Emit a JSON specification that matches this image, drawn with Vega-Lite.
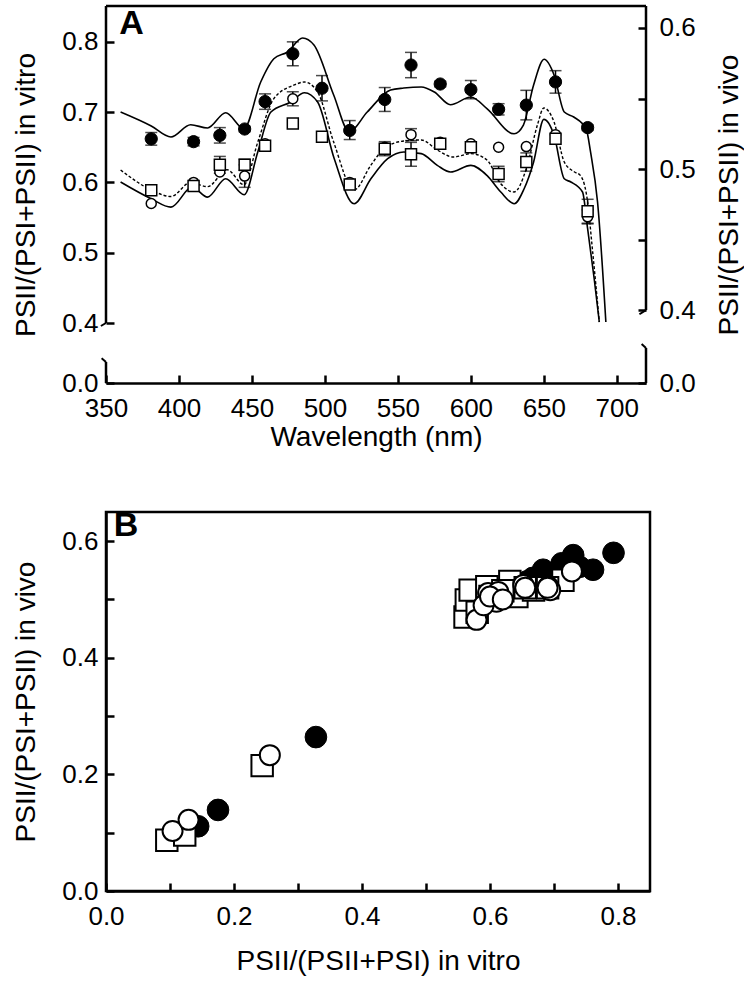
{
 "$schema": "https://vega.github.io/schema/vega-lite/v6.json",
 "padding": {"left": 11, "top": 4, "right": 0, "bottom": 0},
 "spacing": 56,
 "config": {
  "font": "Liberation Sans",
  "view": {"stroke": null},
  "axis": {"grid": false, "labelFlush": false, "domainColor": "black", "domainWidth": 2.5, "tickColor": "black", "tickWidth": 2.5, "tickSize": -8, "labelFontSize": 26, "labelColor": "black", "labelPadding": 16, "titleFontSize": 28, "titleColor": "black", "titleFontWeight": "normal", "labelFont": "Liberation Sans", "titleFont": "Liberation Sans"},
  "axisX": {"labelPadding": 20, "titlePadding": 2},
  "axisY": {"titlePadding": 21}
 },
 "datasets": {
  "one": [{"k": 1}],
  "lines": [
   {"s":"top","wl":360,"r":0.5404},{"s":"top","wl":381,"r":0.5305},{"s":"top","wl":394.5,"r":0.5227},{"s":"top","wl":408,"r":0.5314},{"s":"top","wl":419.6,"r":0.5291},{"s":"top","wl":432,"r":0.5399},{"s":"top","wl":444.5,"r":0.5286},{"s":"top","wl":456,"r":0.5617},{"s":"top","wl":465,"r":0.5782},{"s":"top","wl":474.4,"r":0.583},{"s":"top","wl":484.7,"r":0.5929},{"s":"top","wl":492.5,"r":0.5879},{"s":"top","wl":506,"r":0.5525},{"s":"top","wl":516.6,"r":0.5265},{"s":"top","wl":529,"r":0.5404},{"s":"top","wl":545,"r":0.556},{"s":"top","wl":554,"r":0.5574},{"s":"top","wl":566,"r":0.5582},{"s":"top","wl":575,"r":0.5546},{"s":"top","wl":586,"r":0.5456},{"s":"top","wl":600,"r":0.5511},{"s":"top","wl":611,"r":0.5428},{"s":"top","wl":629.6,"r":0.525},{"s":"top","wl":636,"r":0.5312},{"s":"top","wl":643,"r":0.5596},{"s":"top","wl":650.2,"r":0.5778},{"s":"top","wl":657,"r":0.5667},{"s":"top","wl":664,"r":0.5404},{"s":"top","wl":670.5,"r":0.5369},{"s":"top","wl":679,"r":0.5284},{"s":"top","wl":682,"r":0.5121},{"s":"top","wl":686.8,"r":0.4766},{"s":"top","wl":692.5,"r":0.3915},
   {"s":"dash","wl":360,"r":0.4993},{"s":"dash","wl":381,"r":0.4851},{"s":"dash","wl":394.5,"r":0.4805},{"s":"dash","wl":408,"r":0.4905},{"s":"dash","wl":419.6,"r":0.4875},{"s":"dash","wl":433,"r":0.4995},{"s":"dash","wl":444.5,"r":0.4889},{"s":"dash","wl":454,"r":0.5191},{"s":"dash","wl":465,"r":0.5499},{"s":"dash","wl":479,"r":0.5596},{"s":"dash","wl":486,"r":0.5617},{"s":"dash","wl":495,"r":0.5546},{"s":"dash","wl":506,"r":0.5191},{"s":"dash","wl":520,"r":0.4851},{"s":"dash","wl":531.5,"r":0.5028},{"s":"dash","wl":540.5,"r":0.5144},{"s":"dash","wl":554,"r":0.5199},{"s":"dash","wl":566,"r":0.5206},{"s":"dash","wl":577,"r":0.5135},{"s":"dash","wl":588,"r":0.5085},{"s":"dash","wl":600,"r":0.5109},{"s":"dash","wl":611,"r":0.5064},{"s":"dash","wl":620.5,"r":0.4896},{"s":"dash","wl":629.6,"r":0.4837},{"s":"dash","wl":638,"r":0.5002},{"s":"dash","wl":645.6,"r":0.5312},{"s":"dash","wl":650,"r":0.5433},{"s":"dash","wl":657,"r":0.5333},{"s":"dash","wl":664,"r":0.505},{"s":"dash","wl":671,"r":0.4979},{"s":"dash","wl":675,"r":0.4955},{"s":"dash","wl":680,"r":0.4766},{"s":"dash","wl":683,"r":0.4461},{"s":"dash","wl":688,"r":0.3915},
   {"s":"low","wl":360,"r":0.4908},{"s":"low","wl":381,"r":0.4789},{"s":"low","wl":394.5,"r":0.473},{"s":"low","wl":409,"r":0.4872},{"s":"low","wl":419.6,"r":0.4801},{"s":"low","wl":432,"r":0.4931},{"s":"low","wl":444.7,"r":0.4818},{"s":"low","wl":454,"r":0.5121},{"s":"low","wl":463,"r":0.5404},{"s":"low","wl":476.7,"r":0.5475},{"s":"low","wl":486,"r":0.5541},{"s":"low","wl":495,"r":0.5475},{"s":"low","wl":506.4,"r":0.5073},{"s":"low","wl":520,"r":0.4754},{"s":"low","wl":531.5,"r":0.4931},{"s":"low","wl":543,"r":0.5073},{"s":"low","wl":554,"r":0.5121},{"s":"low","wl":566,"r":0.5109},{"s":"low","wl":577,"r":0.5026},{"s":"low","wl":586,"r":0.4979},{"s":"low","wl":600,"r":0.5026},{"s":"low","wl":611,"r":0.4955},{"s":"low","wl":620.5,"r":0.4837},{"s":"low","wl":629.7,"r":0.4754},{"s":"low","wl":636.5,"r":0.486},{"s":"low","wl":643,"r":0.505},{"s":"low","wl":650,"r":0.5352},{"s":"low","wl":657,"r":0.5239},{"s":"low","wl":664,"r":0.4931},{"s":"low","wl":668.5,"r":0.4908},{"s":"low","wl":676.5,"r":0.4837},{"s":"low","wl":680,"r":0.4577},{"s":"low","wl":684.5,"r":0.4222},{"s":"low","wl":688,"r":0.3915}
  ],
  "pts": [
   {"s":"filled","wl":381,"v":0.662},{"s":"filled","wl":410,"v":0.658},{"s":"filled","wl":428,"v":0.667},{"s":"filled","wl":445,"v":0.676},{"s":"filled","wl":459,"v":0.715},{"s":"filled","wl":478,"v":0.783},{"s":"filled","wl":498,"v":0.734},{"s":"filled","wl":517,"v":0.674},{"s":"filled","wl":541,"v":0.718},{"s":"filled","wl":559,"v":0.767},{"s":"filled","wl":579,"v":0.74},{"s":"filled","wl":600,"v":0.732},{"s":"filled","wl":619,"v":0.704},{"s":"filled","wl":638,"v":0.71},{"s":"filled","wl":658,"v":0.743},{"s":"filled","wl":680,"v":0.678},
   {"s":"open","wl":381,"v":0.57},{"s":"open","wl":410,"v":0.6},{"s":"open","wl":428,"v":0.615},{"s":"open","wl":445,"v":0.609},{"s":"open","wl":459,"v":0.655},{"s":"open","wl":478,"v":0.719},{"s":"open","wl":498,"v":0.665},{"s":"open","wl":517,"v":0.6},{"s":"open","wl":541,"v":0.65},{"s":"open","wl":559,"v":0.668},{"s":"open","wl":579,"v":0.657},{"s":"open","wl":600,"v":0.655},{"s":"open","wl":619,"v":0.65},{"s":"open","wl":638,"v":0.651},{"s":"open","wl":658,"v":0.668},{"s":"open","wl":680,"v":0.551},
   {"s":"square","wl":381,"v":0.589},{"s":"square","wl":410,"v":0.595},{"s":"square","wl":428,"v":0.625},{"s":"square","wl":445,"v":0.625},{"s":"square","wl":459,"v":0.652},{"s":"square","wl":478,"v":0.684},{"s":"square","wl":498,"v":0.665},{"s":"square","wl":517,"v":0.597},{"s":"square","wl":541,"v":0.648},{"s":"square","wl":559,"v":0.64},{"s":"square","wl":579,"v":0.655},{"s":"square","wl":600,"v":0.65},{"s":"square","wl":619,"v":0.612},{"s":"square","wl":638,"v":0.629},{"s":"square","wl":658,"v":0.662},{"s":"square","wl":680,"v":0.559}
  ],
  "err": [
   {"s":"filled","wl":381,"lo":0.653,"hi":0.671},{"s":"filled","wl":410,"lo":0.652,"hi":0.664},{"s":"filled","wl":428,"lo":0.656,"hi":0.678},{"s":"filled","wl":445,"lo":0.672,"hi":0.68},{"s":"filled","wl":459,"lo":0.704,"hi":0.726},{"s":"filled","wl":478,"lo":0.766,"hi":0.8},{"s":"filled","wl":498,"lo":0.716,"hi":0.752},{"s":"filled","wl":517,"lo":0.661,"hi":0.688},{"s":"filled","wl":541,"lo":0.701,"hi":0.735},{"s":"filled","wl":559,"lo":0.749,"hi":0.785},{"s":"filled","wl":579,"lo":0.736,"hi":0.744},{"s":"filled","wl":600,"lo":0.719,"hi":0.745},{"s":"filled","wl":619,"lo":0.696,"hi":0.712},{"s":"filled","wl":638,"lo":0.689,"hi":0.731},{"s":"filled","wl":658,"lo":0.727,"hi":0.759},{"s":"filled","wl":680,"lo":0.674,"hi":0.682},
   {"s":"square","wl":428,"lo":0.613,"hi":0.637},{"s":"square","wl":445,"lo":0.617,"hi":0.633},{"s":"square","wl":541,"lo":0.638,"hi":0.658},{"s":"square","wl":559,"lo":0.623,"hi":0.657},{"s":"square","wl":619,"lo":0.601,"hi":0.623},{"s":"square","wl":638,"lo":0.616,"hi":0.642},{"s":"square","wl":680,"lo":0.542,"hi":0.576},
   {"s":"open","wl":445,"lo":0.593,"hi":0.625},{"s":"open","wl":478,"lo":0.709,"hi":0.729},{"s":"open","wl":559,"lo":0.6595,"hi":0.6765},{"s":"open","wl":680,"lo":0.541,"hi":0.561}
  ],
  "bpts": [
   {"s":"filled","x":0.144,"y":0.111},{"s":"filled","x":0.175,"y":0.139},{"s":"filled","x":0.328,"y":0.264},{"s":"filled","x":0.662,"y":0.53},{"s":"filled","x":0.658,"y":0.531},{"s":"filled","x":0.667,"y":0.537},{"s":"filled","x":0.676,"y":0.529},{"s":"filled","x":0.674,"y":0.527},{"s":"filled","x":0.683,"y":0.551},{"s":"filled","x":0.704,"y":0.54},{"s":"filled","x":0.71,"y":0.545},{"s":"filled","x":0.712,"y":0.562},{"s":"filled","x":0.73,"y":0.576},{"s":"filled","x":0.74,"y":0.556},{"s":"filled","x":0.761,"y":0.551},{"s":"filled","x":0.793,"y":0.58},
   {"s":"square","x":0.095,"y":0.087},{"s":"square","x":0.123,"y":0.096},{"s":"square","x":0.244,"y":0.215},{"s":"square","x":0.561,"y":0.47},{"s":"square","x":0.563,"y":0.499},{"s":"square","x":0.569,"y":0.516},{"s":"square","x":0.595,"y":0.522},{"s":"square","x":0.631,"y":0.531},{"s":"square","x":0.642,"y":0.505},{"s":"square","x":0.668,"y":0.516},{"s":"square","x":0.714,"y":0.533},{"s":"square","x":0.69,"y":0.52},{"s":"square","x":0.6,"y":0.505},{"s":"square","x":0.62,"y":0.515},{"s":"square","x":0.655,"y":0.52},{"s":"square","x":0.58,"y":0.478},
   {"s":"open","x":0.104,"y":0.103},{"s":"open","x":0.129,"y":0.122},{"s":"open","x":0.256,"y":0.233},{"s":"open","x":0.579,"y":0.465},{"s":"open","x":0.597,"y":0.511},{"s":"open","x":0.613,"y":0.513},{"s":"open","x":0.652,"y":0.525},{"s":"open","x":0.691,"y":0.522},{"s":"open","x":0.694,"y":0.516},{"s":"open","x":0.728,"y":0.548},{"s":"open","x":0.61,"y":0.496},{"s":"open","x":0.59,"y":0.49},{"s":"open","x":0.655,"y":0.52},{"s":"open","x":0.6,"y":0.505},{"s":"open","x":0.62,"y":0.5},{"s":"open","x":0.69,"y":0.52}
  ]
 },
 "vconcat": [
  {
   "width": 540,
   "height": 377,
   "layer": [
    {
     "layer": [
      {
       "data": {"name": "lines"},
       "transform": [{"filter": "datum.s != 'dash'"}],
       "mark": {"type": "line", "interpolate": "monotone", "color": "black", "strokeWidth": 1.6},
       "encoding": {
        "x": {"field": "wl", "type": "quantitative", "title": "Wavelength (nm)", "scale": {"domain": [350, 720], "nice": false, "zero": false}, "axis": {"values": [350, 400, 450, 500, 550, 600, 650, 700], "format": "d", "labelPadding": 20, "titlePadding": 2}},
        "y": {"field": "r", "type": "quantitative", "title": "PSII/(PSI+PSII) in vivo", "scale": {"domain": [0, 0.385, 0.6156], "range": [377, 325.2, 0], "nice": false, "zero": false}, "axis": {"orient": "right", "domain": false, "values": [0, 0.4, 0.45, 0.5, 0.55, 0.6], "labelExpr": "abs(datum.value-0.45)<0.001 || abs(datum.value-0.55)<0.001 ? '' : format(datum.value, '.1f')", "titleAngle": 270, "titleBaseline": "top", "titlePadding": 20, "labelPadding": 21}},
        "detail": {"field": "s"}
       }
      },
      {
       "data": {"name": "lines"},
       "transform": [{"filter": "datum.s == 'dash'"}],
       "mark": {"type": "line", "interpolate": "monotone", "color": "black", "strokeWidth": 1.4, "strokeDash": [3, 2]},
       "encoding": {
        "x": {"field": "wl", "type": "quantitative", "title": "Wavelength (nm)"},
        "y": {"field": "r", "type": "quantitative", "title": "PSII/(PSI+PSII) in vivo"}
       }
      },
      {
       "data": {"name": "one"},
       "mark": {"type": "rule", "color": "black", "strokeWidth": 2.5},
       "encoding": {"x": {"datum": 720}, "y": {"datum": 0.4}, "y2": {"datum": 0.6156}}
      },
      {
       "data": {"name": "one"},
       "mark": {"type": "rule", "color": "black", "strokeWidth": 2.5},
       "encoding": {"x": {"datum": 720}, "y": {"datum": 0}, "y2": {"datum": 0.26}}
      },
      {
       "data": {"name": "one"},
       "mark": {"type": "rule", "color": "black", "strokeWidth": 2},
       "encoding": {"x": {"datum": 720}, "x2": {"datum": 715.5}, "y": {"datum": 0.4}, "y2": {"datum": 0.397}}
      },
      {
       "data": {"name": "one"},
       "mark": {"type": "rule", "color": "black", "strokeWidth": 2},
       "encoding": {"x": {"datum": 720}, "x2": {"datum": 717}, "y": {"datum": 0.26}, "y2": {"datum": 0.29}}
      }
     ]
    },
    {
     "layer": [
      {
       "data": {"name": "err"},
       "mark": {"type": "rule", "color": "black", "strokeWidth": 1.5},
       "encoding": {
        "x": {"field": "wl", "type": "quantitative", "title": "Wavelength (nm)"},
        "y": {"field": "lo", "type": "quantitative", "title": "PSII/(PSI+PSII) in vitro", "scale": {"domain": [0, 0.4, 0.851], "range": [377, 317, 0], "nice": false, "zero": false}, "axis": {"orient": "left", "domain": false, "values": [0, 0.4, 0.5, 0.6, 0.7, 0.8], "format": ".1f"}},
        "y2": {"field": "hi"}
       }
      },
      {
       "data": {"name": "err"},
       "mark": {"type": "tick", "orient": "horizontal", "color": "black", "thickness": 1.5, "size": 12},
       "encoding": {
        "x": {"field": "wl", "type": "quantitative", "title": "Wavelength (nm)"},
        "y": {"field": "lo", "type": "quantitative", "title": "PSII/(PSI+PSII) in vitro"}
       }
      },
      {
       "data": {"name": "err"},
       "mark": {"type": "tick", "orient": "horizontal", "color": "black", "thickness": 1.5, "size": 12},
       "encoding": {
        "x": {"field": "wl", "type": "quantitative", "title": "Wavelength (nm)"},
        "y": {"field": "hi", "type": "quantitative", "title": "PSII/(PSI+PSII) in vitro"}
       }
      },
      {
       "data": {"name": "pts"},
       "transform": [{"filter": "datum.s == 'open'"}],
       "mark": {"type": "point", "shape": "circle", "filled": true, "fill": "white", "stroke": "black", "strokeWidth": 1.5, "size": 100, "opacity": 1},
       "encoding": {
        "x": {"field": "wl", "type": "quantitative", "title": "Wavelength (nm)"},
        "y": {"field": "v", "type": "quantitative", "title": "PSII/(PSI+PSII) in vitro"}
       }
      },
      {
       "data": {"name": "pts"},
       "transform": [{"filter": "datum.s == 'square'"}],
       "mark": {"type": "point", "shape": "square", "filled": true, "fill": "white", "stroke": "black", "strokeWidth": 1.5, "size": 121, "opacity": 1},
       "encoding": {
        "x": {"field": "wl", "type": "quantitative", "title": "Wavelength (nm)"},
        "y": {"field": "v", "type": "quantitative", "title": "PSII/(PSI+PSII) in vitro"}
       }
      },
      {
       "data": {"name": "pts"},
       "transform": [{"filter": "datum.s == 'filled'"}],
       "mark": {"type": "point", "shape": "circle", "filled": true, "fill": "black", "stroke": "black", "strokeWidth": 1, "size": 150, "opacity": 1},
       "encoding": {
        "x": {"field": "wl", "type": "quantitative", "title": "Wavelength (nm)"},
        "y": {"field": "v", "type": "quantitative", "title": "PSII/(PSI+PSII) in vitro"}
       }
      },
      {
       "data": {"name": "one"},
       "mark": {"type": "rule", "color": "black", "strokeWidth": 2.5},
       "encoding": {"x": {"datum": 350}, "x2": {"datum": 720}, "y": {"datum": 0.851}}
      },
      {
       "data": {"name": "one"},
       "mark": {"type": "rule", "color": "black", "strokeWidth": 2.5},
       "encoding": {"x": {"datum": 350}, "y": {"datum": 0.4}, "y2": {"datum": 0.851}}
      },
      {
       "data": {"name": "one"},
       "mark": {"type": "rule", "color": "black", "strokeWidth": 2.5},
       "encoding": {"x": {"datum": 350}, "y": {"datum": 0}, "y2": {"datum": 0.14}}
      },
      {
       "data": {"name": "one"},
       "mark": {"type": "rule", "color": "black", "strokeWidth": 2},
       "encoding": {"x": {"datum": 350}, "x2": {"datum": 346.5}, "y": {"datum": 0.4}, "y2": {"datum": 0.38}}
      },
      {
       "data": {"name": "one"},
       "mark": {"type": "rule", "color": "black", "strokeWidth": 2},
       "encoding": {"x": {"datum": 350}, "x2": {"datum": 347}, "y": {"datum": 0.14}, "y2": {"datum": 0.165}}
      },
      {
       "data": {"name": "one"},
       "mark": {"type": "text", "text": "A", "fontSize": 34, "fontWeight": "bold", "align": "left", "baseline": "middle", "font": "Liberation Sans"},
       "encoding": {"x": {"datum": 359}, "y": {"datum": 0.826}}
      }
     ]
    }
   ],
   "resolve": {"scale": {"y": "independent"}}
  },
  {
   "width": 544,
   "height": 379,
   "view": {"stroke": "black", "strokeWidth": 2.5},
   "data": {"name": "bpts"},
   "encoding": {
    "x": {"field": "x", "type": "quantitative", "title": "PSII/(PSII+PSI) in vitro", "scale": {"domain": [0, 0.85], "nice": false}, "axis": {"values": [0, 0.1, 0.2, 0.3, 0.4, 0.5, 0.6, 0.7, 0.8], "labelExpr": "round(datum.value*10) % 2 == 1 ? '' : format(datum.value, '.1f')", "titlePadding": 18}},
    "y": {"field": "y", "type": "quantitative", "title": "PSII/(PSI+PSII) in vivo", "scale": {"domain": [0, 0.65], "nice": false}, "axis": {"values": [0, 0.1, 0.2, 0.3, 0.4, 0.5, 0.6], "labelExpr": "round(datum.value*10) % 2 == 1 ? '' : format(datum.value, '.1f')"}}
   },
   "layer": [
    {
     "transform": [{"filter": "datum.s == 'filled'"}],
     "mark": {"type": "point", "shape": "circle", "filled": true, "fill": "black", "stroke": "black", "strokeWidth": 1, "size": 470, "opacity": 1}
    },
    {
     "transform": [{"filter": "datum.s == 'square'"}],
     "mark": {"type": "point", "shape": "square", "filled": true, "fill": "white", "stroke": "black", "strokeWidth": 2, "size": 460, "opacity": 1}
    },
    {
     "transform": [{"filter": "datum.s == 'open'"}],
     "mark": {"type": "point", "shape": "circle", "filled": true, "fill": "white", "stroke": "black", "strokeWidth": 2, "size": 400, "opacity": 1}
    },
    {
     "transform": [{"filter": "datum.s == 'filled' && datum.x > 0.79"}],
     "mark": {"type": "text", "text": "B", "fontSize": 34, "fontWeight": "bold", "align": "left", "baseline": "middle", "font": "Liberation Sans"},
     "encoding": {"x": {"datum": 0.012}, "y": {"datum": 0.626}}
    }
   ]
  }
 ]
}
